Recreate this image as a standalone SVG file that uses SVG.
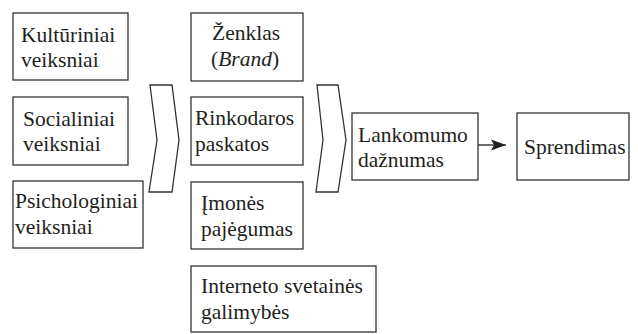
<svg xmlns="http://www.w3.org/2000/svg" width="638" height="334" viewBox="0 0 638 334">
<style>
.box{fill:#fff;stroke:#333;stroke-width:1.3}
.chev{fill:#fff;stroke:#333;stroke-width:1.3;stroke-linejoin:miter}
text{font-family:'Liberation Serif',serif;font-size:21.5px;fill:#231f20}
.conn{stroke:#231f20;stroke-width:1.3;fill:none}
</style>
<defs>
<marker id="ah" markerUnits="userSpaceOnUse" markerWidth="16" markerHeight="12" refX="15" refY="6" orient="auto">
<path d="M0,0.5 L15,6 L0,11.5 L3,6 Z" fill="#231f20"/>
</marker>
</defs>
<g id="kulturiniai"><rect class="box" x="13" y="13" width="115" height="67"/><text x="21" y="42">Kultūriniai</text><text x="21" y="67">veiksniai</text></g>
<g id="socialiniai"><rect class="box" x="13" y="97" width="115" height="68"/><text x="23" y="126">Socialiniai</text><text x="23" y="151">veiksniai</text></g>
<g id="psichologiniai"><rect class="box" x="13" y="181" width="130" height="67"/><text x="15" y="208">Psichologiniai</text><text x="15" y="234">veiksniai</text></g>
<g id="chevron1"><polygon class="chev" points="150,85 172,85 179,140 172,192 149,192 157,140"/></g>
<g id="zenklas"><rect class="box" x="191" y="13" width="112" height="68"/><text x="212" y="40">Ženklas</text><text x="211" y="66">(<tspan font-style="italic">Brand</tspan>)</text></g>
<g id="rinkodaros"><rect class="box" x="191" y="97" width="112" height="68"/><text x="195" y="125">Rinkodaros</text><text x="195" y="151">paskatos</text></g>
<g id="imones"><rect class="box" x="191" y="182" width="112" height="67"/><text x="201" y="210">Įmonės</text><text x="201" y="236">pajėgumas</text></g>
<g id="interneto"><rect class="box" x="191" y="266" width="185" height="66"/><text x="201" y="293">Interneto svetainės</text><text x="201" y="319">galimybės</text></g>
<g id="chevron2"><polygon class="chev" points="317,85 338,85 346,140 338,192 316,192 323,140"/></g>
<g id="lankomumo"><rect class="box" x="352" y="113" width="126" height="67"/><text x="358" y="142">Lankomumo</text><text x="358" y="167">dažnumas</text></g>
<g id="sprendimas"><rect class="box" x="517" y="113" width="112" height="67"/><text x="524" y="154">Sprendimas</text></g>
<g id="connectors"><line class="conn" x1="478" y1="145" x2="506" y2="145" marker-end="url(#ah)"/></g>
</svg>
